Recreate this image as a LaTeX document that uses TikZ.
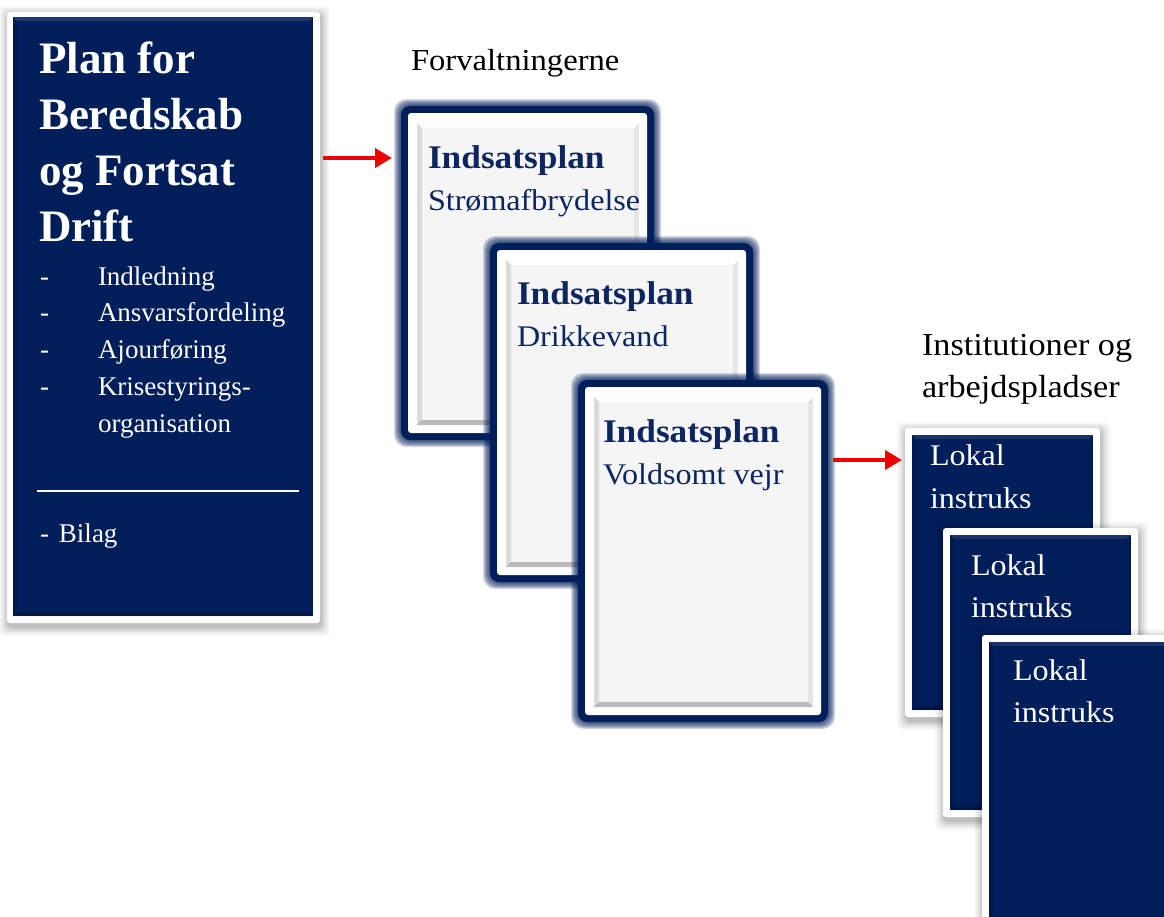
\documentclass[tikz,border=0pt]{standalone}
\usepackage{fontspec}
\setmainfont{Liberation Serif}
\newfontfamily\wideserif{Liberation Serif}[FakeStretch=1.07]
\usetikzlibrary{arrows.meta,calc}
\definecolor{navy}{RGB}{0,30,90}
\definecolor{navytxt}{RGB}{14,38,96}
\definecolor{panelgray}{RGB}{245,245,245}
\definecolor{arrowred}{RGB}{240,0,0}
% soft drop shadow: x1 y1 x2 y2
\newcommand{\dropshade}[4]{%
  \foreach \d/\o in {9/0.03,7/0.04,5/0.05,3/0.07,1/0.08}{%
    \fill[black,opacity=\o,rounded corners=6pt] (#1-\d+1,#2-\d+3) rectangle (#3+\d+1,#4+\d+4);}}
% navy glow: x1 y1 x2 y2
\newcommand{\navyglow}[4]{%
  \foreach \d in {14,13,12,11,10,9,8}{%
    \fill[navy,opacity=0.17,rounded corners=12pt] (#1-\d,#2-\d) rectangle (#3+\d,#4+\d);}
  \fill[navy,rounded corners=9pt] (#1-7,#2-7) rectangle (#3+7,#4+7);}
% bevelled panel: x1 y1 x2 y2 width colour topopacity
\newcommand{\bevelpanel}[7]{%
  \fill[#6] (#1,#2) rectangle (#3,#4);
  \fill[white,opacity=#7] (#1,#2) -- (#3,#2) -- (#3-#5,#2+#5) -- (#1+#5,#2+#5) -- cycle;
  \fill[black,opacity=0.11] (#1,#2) -- (#1+#5,#2+#5) -- (#1+#5,#4-#5) -- (#1,#4) -- cycle;
  \fill[black,opacity=0.24] (#1,#4) -- (#1+#5,#4-#5) -- (#3-#5,#4-#5) -- (#3,#4) -- cycle;
  \fill[black,opacity=0.06] (#3,#2) -- (#3,#4) -- (#3-#5,#4-#5) -- (#3-#5,#2+#5) -- cycle;}
\begin{document}
\begin{tikzpicture}[x=1pt,y=-1pt,
  whiteframe/.style={fill=white,rounded corners=3pt,inner sep=0pt,outer sep=0pt,anchor=north west},
  lbl/.style={inner sep=0pt,outer sep=0pt,anchor=base west},
  titlefont/.style={lbl,font=\fontsize{45}{54}\selectfont\bfseries,text=white},
  listfont/.style={lbl,font=\fontsize{27}{32}\selectfont,text=white},
  headfont/.style={lbl,font=\wideserif\fontsize{30.5}{36}\selectfont,text=black},
  insthead/.style={lbl,font=\wideserif\fontsize{32}{38}\selectfont,text=black},
  cardtitle/.style={lbl,font=\wideserif\fontsize{33}{40}\selectfont\bfseries,text=navytxt},
  cardsub/.style={lbl,font=\wideserif\fontsize{30}{36}\selectfont,text=navytxt},
  loktxt/.style={lbl,font=\wideserif\fontsize{30}{36}\selectfont,text=white},
  redarrow/.style={draw=arrowred,line width=4pt,-{Triangle[length=17pt,width=19pt]}},
]
\useasboundingbox (0,0) rectangle (1164,916);
\clip (0,0) rectangle (1164,916);
\fill[white] (0,0) rectangle (1164,916);

% ---------- main plan box ----------
\dropshade{7}{12}{320}{623}
\node[whiteframe,minimum width=313pt,minimum height=611pt] (main) at (7,12) {};
\bevelpanel{13}{17}{313}{616}{4}{navy}{0.12}
\node[titlefont] (t1) at (39,73) {Plan for};
\node[titlefont] (t2) at (39,129) {Beredskab};
\node[titlefont] (t3) at (39,185) {og Fortsat};
\node[titlefont] (t4) at (39,241) {Drift};
\node[listfont] (d1) at (40,285) {-};
\node[listfont] (l1) at (98,285) {Indledning};
\node[listfont] (d2) at (40,321) {-};
\node[listfont] (l2) at (98,321) {Ansvarsfordeling};
\node[listfont] (d3) at (40,358) {-};
\node[listfont] (l3) at (98,358) {Ajourføring};
\node[listfont] (d4) at (40,395) {-};
\node[listfont] (l4) at (98,395) {Krisestyrings-};
\node[listfont] (l5) at (98,432) {organisation};
\coordinate (rulel) at (37,491);
\coordinate (ruler) at (299,491);
\draw[white,line width=2pt] (rulel) -- (ruler);
\node[listfont] (bilag) at (40,542) {-\hspace{10pt}Bilag};

% ---------- headings ----------
\node[headfont] (forv) at (411,70) {Forvaltningerne};
\node[insthead] (inst1) at (922,355) {Institutioner og};
\node[insthead] (inst2) at (922,397) {arbejdspladser};

% ---------- Indsatsplan cards ----------
\navyglow{408}{113}{647}{433}
\node[whiteframe,minimum width=239pt,minimum height=320pt] (card1) at (408,113) {};
\bevelpanel{417}{123}{639}{425}{5}{panelgray}{0.9}
\node[cardtitle] (c1t) at (428,168) {Indsatsplan};
\node[cardsub] (c1s) at (428,210) {Strømafbrydelse};

\navyglow{497}{250}{746}{575}
\node[whiteframe,minimum width=249pt,minimum height=325pt] (card2) at (497,250) {};
\bevelpanel{506}{260}{738}{567}{5}{panelgray}{0.9}
\node[cardtitle] (c2t) at (517,304) {Indsatsplan};
\node[cardsub] (c2s) at (517,346) {Drikkevand};

\navyglow{585}{387}{821}{715}
\node[whiteframe,minimum width=236pt,minimum height=328pt] (card3) at (585,387) {};
\bevelpanel{594}{397}{813}{707}{5}{panelgray}{0.9}
\node[cardtitle] (c3t) at (603,442) {Indsatsplan};
\node[cardsub] (c3s) at (603,484) {Voldsomt vejr};

% ---------- Lokal instruks boxes ----------
\dropshade{905}{428}{1100}{717}
\node[whiteframe,minimum width=195pt,minimum height=289pt] (lok1) at (905,428) {};
\bevelpanel{912}{435}{1093}{710}{4}{navy}{0.1}
\node[loktxt] (k1a) at (930,465) {Lokal};
\node[loktxt] (k1b) at (930,508) {instruks};

\dropshade{943}{528}{1138}{817}
\node[whiteframe,minimum width=195pt,minimum height=289pt] (lok2) at (943,528) {};
\bevelpanel{950}{535}{1131}{810}{4}{navy}{0.1}
\node[loktxt] (k2a) at (971,575) {Lokal};
\node[loktxt] (k2b) at (971,617) {instruks};

\dropshade{982}{635}{1180}{930}
\node[whiteframe,minimum width=198pt,minimum height=295pt] (lok3) at (982,635) {};
\bevelpanel{989}{642}{1175}{925}{4}{navy}{0.1}
\node[loktxt] (k3a) at (1013,680) {Lokal};
\node[loktxt] (k3b) at (1013,722) {instruks};

% ---------- arrows ----------
\coordinate (a1) at ($(card1.north west)+(0,45)$);
\draw[redarrow,shorten <=3pt,shorten >=16pt] (main.east |- a1) -- (a1);
\coordinate (a2) at ($(lok1.north west)+(0,32)$);
\draw[redarrow,shorten <=12pt,shorten >=3pt] (card3.east |- a2) -- (a2);
\end{tikzpicture}
\end{document}
